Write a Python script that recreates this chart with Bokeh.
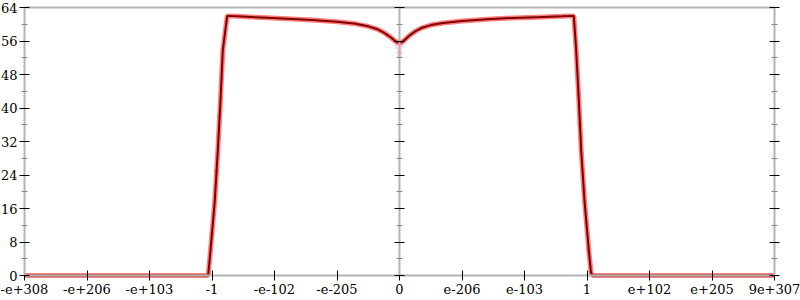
from bokeh.plotting import figure
from bokeh.models import LinearAxis, FixedTicker, Range1d
from bokeh.embed import file_html
from bokeh.resources import INLINE

# x positions are in "ordinal" tick units: -6 .. 6 (one unit between labelled ticks)
x_tick_pos = [-6, -5, -4, -3, -2, -1, 0, 1, 2, 3, 4, 5, 6]
x_tick_labels = ["-e+308", "-e+206", "-e+103", "-1", "-e-102", "-e-205", "0",
                 "e-206", "e-103", "1", "e+102", "e+205", "9e+307"]
y_major = [0, 8, 16, 24, 32, 40, 48, 56, 64]
y_minor = [4, 12, 20, 28, 36, 44, 52, 60]

x_pos = [-6.0, -5.0, -4.0, -3.5, -3.061, -3.024, -2.955, -2.907, -2.864, -2.827,
         -2.757, -2.6, -2.2, -1.8, -1.4, -1.0, -0.7, -0.5,
         -0.35, -0.25, -0.15, -0.08, -0.03, 0.0, 0.03, 0.08, 0.15, 0.25, 0.35, 0.5,
         0.7, 1.0, 1.4, 1.8, 2.2, 2.6, 2.789, 2.827, 2.869, 2.907, 2.96, 3.029,
         3.064, 3.088, 3.5, 4.0, 5.0, 6.0]
err_bits = [0, 0, 0, 0, 0, 6.0, 17.9, 29.9, 41.9, 53.8,
            62.0, 61.9, 61.6, 61.3, 61.0, 60.6, 60.1, 59.5,
            58.8, 58.0, 57.0, 56.1, 55.7, 55.6, 55.7, 56.2, 57.2, 58.3, 59.1, 59.8,
            60.3, 60.8, 61.2, 61.5, 61.7, 61.9, 62.0, 53.8, 41.9, 29.9, 17.9, 6.0,
            0.7, 0, 0, 0, 0, 0]

# faint scattered samples around the dip and the steep edges
sample_x = [-0.03, -0.01, 0.0, 0.01, 0.03, -0.05, 0.05, -2.93, -2.88, -3.0, 2.89, 2.95, 3.02]
sample_y = [54.5, 53.2, 52.4, 53.4, 54.6, 55.4, 55.5, 25.0, 38.0, 10.0, 36.0, 20.0, 6.0]

FONT = "DejaVu Serif, Liberation Serif, serif"
AXIS_GRAY = "#b4b4b4"

# plot area in pixels inside the 800x300 canvas (frame covers whole canvas)
W, H = 800, 300
PL, PR, PT, PB = 24, 774, 7, 275
X0, X1 = x_tick_pos[0], x_tick_pos[-1]
Y0, Y1 = y_major[0], y_major[-1]
sx = (PR - PL) / (X1 - X0)
sy = (PB - PT) / (Y1 - Y0)
x_range = Range1d(X0 - PL / sx, X1 + (W - PR) / sx)
y_range = Range1d(Y0 - (H - PB) / sy, Y1 + PT / sy)

p = figure(width=W, height=H, x_range=x_range, y_range=y_range,
           x_axis_type=None, y_axis_type=None, output_backend="svg",
           toolbar_location=None, min_border=0)
p.outline_line_color = None
p.background_fill_color = "white"
p.border_fill_color = "white"

def style_ticks(ax, minor=True, ticks=True):
    ax.axis_line_color = AXIS_GRAY
    ax.axis_line_width = 2
    if ticks:
        ax.major_tick_line_color = "black"
        ax.major_tick_in = 5
        ax.major_tick_out = 5
    else:
        ax.major_tick_line_color = None
    if minor and ticks:
        ax.minor_tick_line_color = "#888888"
        ax.minor_tick_in = 3
        ax.minor_tick_out = 3
    else:
        ax.minor_tick_line_color = None
    ax.major_label_text_color = None

def style_labels(ax, standoff):
    ax.axis_line_color = None
    ax.major_tick_line_color = None
    ax.minor_tick_line_color = None
    ax.major_tick_in = 0
    ax.major_tick_out = 0
    ax.minor_tick_in = 0
    ax.minor_tick_out = 0
    ax.major_label_standoff = standoff
    ax.major_label_text_font = FONT
    ax.major_label_text_font_size = "13px"
    ax.major_label_text_color = "black"

# top border line
xt = LinearAxis(ticker=FixedTicker(ticks=x_tick_pos), fixed_location=Y1, bounds=(X0, X1))
style_ticks(xt, ticks=False)
p.add_layout(xt, "above")

# bottom axis
xb = LinearAxis(ticker=FixedTicker(ticks=x_tick_pos), fixed_location=Y0, bounds=(X0, X1))
style_ticks(xb, minor=False)
p.add_layout(xb, "below")

# left, right and centre (x = 0) axes
yl = LinearAxis(ticker=FixedTicker(ticks=y_major, minor_ticks=y_minor),
                fixed_location=X0, bounds=(Y0, Y1))
style_ticks(yl)
p.add_layout(yl, "left")

yr = LinearAxis(ticker=FixedTicker(ticks=y_major, minor_ticks=y_minor),
                fixed_location=X1, bounds=(Y0, Y1))
style_ticks(yr)
p.add_layout(yr, "right")

yc = LinearAxis(ticker=FixedTicker(ticks=y_major, minor_ticks=y_minor),
                fixed_location=0, bounds=(Y0, Y1))
style_ticks(yc)
p.add_layout(yc, "left")

# tick labels
xl = LinearAxis(ticker=FixedTicker(ticks=x_tick_pos), fixed_location=Y0)
xl.major_label_overrides = {t: l for t, l in zip(x_tick_pos, x_tick_labels)}
style_labels(xl, 8)
p.add_layout(xl, "below")

yll = LinearAxis(ticker=FixedTicker(ticks=y_major), fixed_location=X0)
style_labels(yll, 7)
p.add_layout(yll, "left")

# data
p.line(x_pos, err_bits, line_color="red", line_alpha=0.5, line_width=5)
p.scatter(sample_x, sample_y, size=4, color="red", alpha=0.12)
p.line(x_pos, err_bits, line_color="#800000", line_width=2)

open("out.html", "w").write(file_html(p, INLINE))
